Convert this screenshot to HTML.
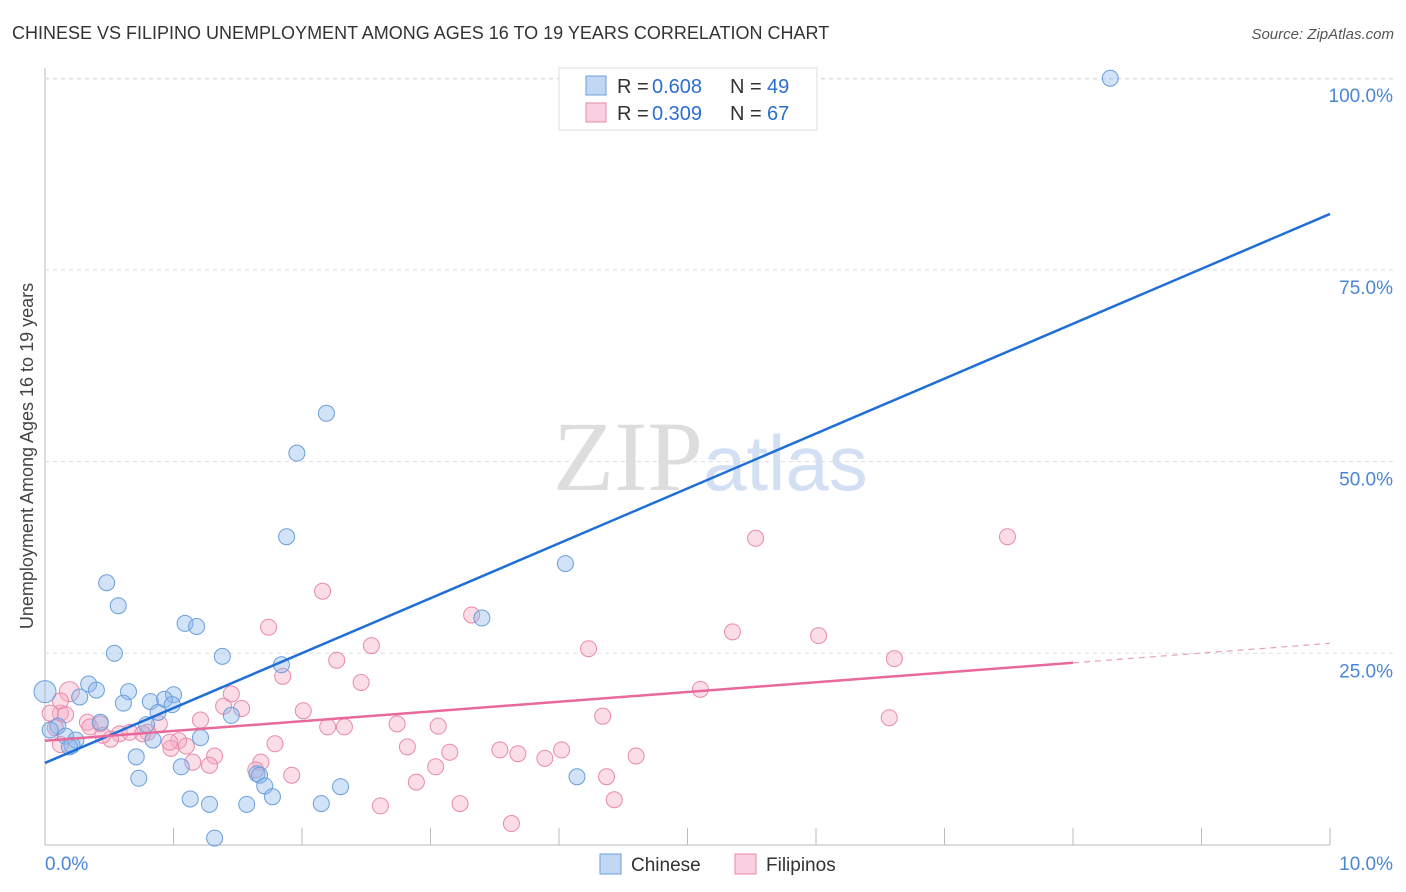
<!DOCTYPE html>
<html><head><meta charset="utf-8"><style>
body{margin:0;background:#fff;font-family:"Liberation Sans",sans-serif}
svg{display:block}
</style></head><body>
<svg id="chart" width="1406" height="892">
<text x="12" y="39" font-size="18" fill="#333">CHINESE VS FILIPINO UNEMPLOYMENT AMONG AGES 16 TO 19 YEARS CORRELATION CHART</text>
<text x="1394" y="39" font-size="15" fill="#555" font-style="italic" text-anchor="end">Source: ZipAtlas.com</text>
<text x="0" y="0" transform="translate(33,456) rotate(-90)" font-size="18" fill="#444" text-anchor="middle">Unemployment Among Ages 16 to 19 years</text>
<g id="grid"></g>
<text x="553" y="490" font-size="100" font-family="Liberation Serif,serif" fill="#ddd">ZIP<tspan fill="#d3e0f3" font-family="Liberation Sans,sans-serif" font-size="78">atlas</tspan></text>
<g id="pts"></g>
<g id="lines"></g>
<g>
<rect x="559" y="68" width="258" height="62" fill="#fff" stroke="#ddd"/>
<rect x="586" y="76" width="20" height="19" fill="rgba(143,182,234,0.55)" stroke="#6a9fdc"/>
<text x="617" y="93" font-size="20" fill="#333">R =</text>
<text x="652" y="93" font-size="20" fill="#2a6fd0">0.608</text>
<text x="730" y="93" font-size="20" fill="#333">N =</text>
<text x="767" y="93" font-size="20" fill="#2a6fd0">49</text>
<rect x="586" y="103" width="20" height="19" fill="rgba(244,170,196,0.55)" stroke="#e98aaa"/>
<text x="617" y="120" font-size="20" fill="#333">R =</text>
<text x="652" y="120" font-size="20" fill="#2a6fd0">0.309</text>
<text x="730" y="120" font-size="20" fill="#333">N =</text>
<text x="767" y="120" font-size="20" fill="#2a6fd0">67</text>
</g>
<g>
<rect x="600" y="854" width="21" height="20" fill="rgba(143,182,234,0.55)" stroke="#6a9fdc"/>
<text x="631" y="871" font-size="19" fill="#333">Chinese</text>
<rect x="735" y="854" width="21" height="20" fill="rgba(244,170,196,0.55)" stroke="#e98aaa"/>
<text x="766" y="871" font-size="19" fill="#333">Filipinos</text>
</g>
</svg>
<script>
const xTicks=[0,1,2,3,4,5,6,7,8,9,10];
const yTicks=[25,50,75,100];
const yTickLabels=["25.0%","50.0%","75.0%","100.0%"];
const chineseX=[8.29,2.19,1.96,1.88,4.05,0.48,0.57,3.40,1.09,1.18,0.54,1.38,1.84,0.34,0.40,0.65,0.27,1.00,0.82,0.93,0.99,0.61,0.88,1.45,0.0,0.79,0.43,0.10,0.16,0.24,0.84,1.21,0.21,0.19,0.71,1.06,1.65,1.67,4.14,0.73,1.71,2.30,1.13,1.28,1.57,1.77,2.15,1.32,0.04];
const chineseY=[100,56.3,51.1,40.2,36.7,34.2,31.2,29.6,28.9,28.5,25.0,24.6,23.5,21.0,20.2,20.0,19.3,19.6,18.7,19.0,18.3,18.5,17.3,16.9,20.0,15.7,16.0,15.5,14.2,13.7,13.7,14.0,13.0,12.8,11.5,10.2,9.3,9.1,8.9,8.7,7.7,7.6,6.0,5.3,5.3,6.3,5.4,0.9,15.0];
const filipinoX=[7.49,5.53,2.16,3.32,1.74,5.35,6.02,4.23,2.54,2.27,6.61,1.85,2.46,5.10,1.45,0.19,0.12,1.39,1.53,2.01,6.57,4.34,1.21,0.33,0.43,0.89,2.20,2.33,3.06,2.74,0.58,0.66,0.80,1.04,0.51,1.79,2.82,3.15,3.54,3.68,4.02,3.89,4.60,1.10,0.98,1.32,1.15,1.28,1.68,1.64,3.04,1.92,2.89,4.37,4.43,2.61,3.23,3.63,0.12,0.04,0.08,0.35,0.76,0.45,0.97,0.12,0.16];
const filipinoY=[40.2,40.0,33.1,30.0,28.4,27.8,27.3,25.6,26.0,24.1,24.3,22.0,21.2,20.3,19.7,20.0,17.2,18.1,17.8,17.5,16.6,16.8,16.3,16.0,15.8,15.8,15.4,15.4,15.5,15.8,14.5,14.7,14.7,13.6,13.8,13.2,12.8,12.1,12.4,11.9,12.4,11.3,11.6,12.9,12.6,11.6,10.8,10.4,10.8,9.8,10.2,9.1,8.2,8.9,5.9,5.1,5.4,2.8,18.8,17.2,15.3,15.4,14.5,14.3,13.4,13.1,17.0];
const blueFit=[10.7,82.3];
const pinkFit=[13.6,26.3];
const pinkSolidEnd=8;
const X=v=>45+v*128.5, Y=v=>845-v*7.668;
const NS="http://www.w3.org/2000/svg";
function mk(t,a,p){const e=document.createElementNS(NS,t);for(const k in a)e.setAttribute(k,a[k]);p.appendChild(e);return e;}
const g=document.getElementById('grid');
let ax=mk('line',{x1:45,y1:68,x2:45,y2:845,stroke:'#bbb'},g);


let bx=mk('line',{x1:45,y1:845,x2:1330,y2:845,stroke:'#bbb'},g);


mk('line',{x1:45,y1:79,x2:1394,y2:79,stroke:'#ddd','stroke-dasharray':'4,4'},g);
yTicks.forEach((t,i)=>{
  const l=mk('line',{x1:45,y1:Y(t),x2:1394,y2:Y(t),stroke:'#ddd','stroke-dasharray':'4,4'},g);
  
  
  const tx=mk('text',{x:1393,y:Y(t)+24,'font-size':19,fill:'#4a86d8','text-anchor':'end'},g);
  tx.textContent=yTickLabels[i];
  
  
});
xTicks.forEach(t=>{
  if(t>0){const l=mk('line',{x1:X(t),y1:828,x2:X(t),y2:845,stroke:'#bbb'},g);
  
  }
});
let t0=mk('text',{x:45,y:870,'font-size':19,fill:'#4a86d8'},g);t0.textContent='0.0%';


let t1=mk('text',{x:1393,y:870,'font-size':19,fill:'#4a86d8','text-anchor':'end'},g);t1.textContent='10.0%';


const p=document.getElementById('pts');
filipinoX.forEach((x,i)=>{
  const c=mk('circle',{cx:X(x),cy:Y(filipinoY[i]),r:i==15?10:8,fill:'rgba(244,170,196,0.4)',stroke:'#e98aaa','stroke-width':1},p);
  
  
});
chineseX.forEach((x,i)=>{
  const c=mk('circle',{cx:X(x),cy:Y(chineseY[i]),r:i==24?11:8,fill:'rgba(143,182,234,0.4)',stroke:'#6a9fdc','stroke-width':1},p);
  
  
});
const L=document.getElementById('lines');
let bl=mk('line',{x1:X(0),y1:Y(blueFit[0]),x2:X(10),y2:Y(blueFit[1]),stroke:'#1f6fd6','stroke-width':2.5},L);


const py=v=>pinkFit[0]+(pinkFit[1]-pinkFit[0])*v/10;
let pl=mk('line',{x1:X(0),y1:Y(py(0)),x2:X(pinkSolidEnd),y2:Y(py(pinkSolidEnd)),stroke:'#e8699a','stroke-width':2.5},L);


let pd=mk('line',{x1:X(pinkSolidEnd),y1:Y(py(pinkSolidEnd)),x2:X(10),y2:Y(py(10)),stroke:'#e8a0b8','stroke-width':1.2,'stroke-dasharray':'6,5'},L);


</script>
</body></html>
